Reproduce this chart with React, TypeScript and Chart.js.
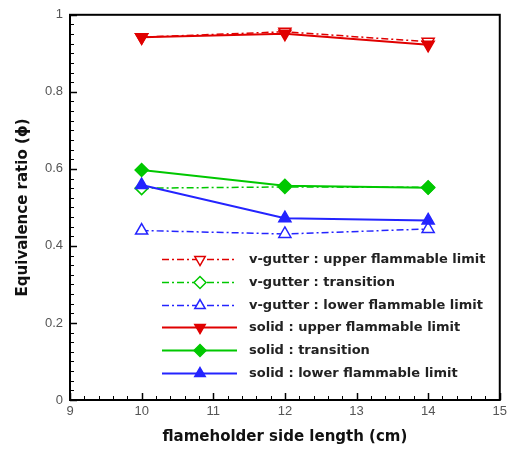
import React, { useEffect, useRef } from 'react';
import { Chart, registerables } from 'chart.js';
Chart.register(...registerables);

const sideLengths = [10, 12, 14];
const vGutterUpper = [0.942, 0.956, 0.93];
const vGutterTransition = [0.55, 0.553, 0.552];
const vGutterLower = [0.44, 0.431, 0.444];
const solidUpper = [0.942, 0.951, 0.922];
const solidTransition = [0.597, 0.556, 0.551];
const solidLower = [0.558, 0.472, 0.466];
const xTickValues = [9, 10, 11, 12, 13, 14, 15];
const yTickValues = [0, 0.2, 0.4, 0.6, 0.8, 1];
const seriesLabels = [
  'v-gutter : upper flammable limit',
  'v-gutter : transition',
  'v-gutter : lower flammable limit',
  'solid : upper flammable limit',
  'solid : transition',
  'solid : lower flammable limit',
];

const RED = '#e00000';
const GREEN = '#00c800';
const BLUE = '#2424ff';
const DASH = [7, 3, 2, 3];

type MarkerStyle = 'down' | 'up' | 'diamond';

function drawMarker(ctx: CanvasRenderingContext2D, style: MarkerStyle, x: number, y: number, r: number, filled: boolean, color: string) {
  ctx.save();
  ctx.setLineDash([]);
  ctx.beginPath();
  if (style === 'diamond') {
    ctx.moveTo(x, y - r);
    ctx.lineTo(x + r, y);
    ctx.lineTo(x, y + r);
    ctx.lineTo(x - r, y);
  } else {
    const s = style === 'up' ? 1 : -1;
    ctx.moveTo(x, y - s * r);
    ctx.lineTo(x + r * 0.866, y + s * r * 0.5);
    ctx.lineTo(x - r * 0.866, y + s * r * 0.5);
  }
  ctx.closePath();
  ctx.fillStyle = filled ? color : '#ffffff';
  ctx.fill();
  ctx.lineWidth = 1.5;
  ctx.strokeStyle = color;
  ctx.stroke();
  ctx.restore();
}

const legendInfo: { color: string; dashed: boolean; marker: MarkerStyle; filled: boolean }[] = [
  { color: RED, dashed: true, marker: 'down', filled: false },
  { color: GREEN, dashed: true, marker: 'diamond', filled: false },
  { color: BLUE, dashed: true, marker: 'up', filled: false },
  { color: RED, dashed: false, marker: 'down', filled: true },
  { color: GREEN, dashed: false, marker: 'diamond', filled: true },
  { color: BLUE, dashed: false, marker: 'up', filled: true },
];

const framePlugin = {
  id: 'frameTicks',
  afterDraw(chart: any) {
    const { ctx, chartArea } = chart;
    const xs = chart.scales.x;
    const ys = chart.scales.y;
    const { left, right, top, bottom } = chartArea;
    ctx.save();
    ctx.strokeStyle = '#000';
    for (let i = 0; i <= 30; i++) {
      const v = 9 + i * 0.2;
      const px = Math.round(xs.getPixelForValue(v)) + 0.5;
      const major = i % 5 === 0;
      const len = major ? 7 : 4;
      ctx.lineWidth = major ? 1.5 : 1;
      ctx.beginPath();
      ctx.moveTo(px, bottom);
      ctx.lineTo(px, bottom - len);
      ctx.stroke();
    }
    for (let i = 0; i <= 40; i++) {
      const v = i * 0.025;
      const py = Math.round(ys.getPixelForValue(v)) + 0.5;
      const major = i % 8 === 0;
      const len = major ? 7 : 4;
      ctx.lineWidth = major ? 1.5 : 1;
      ctx.beginPath();
      ctx.moveTo(left, py);
      ctx.lineTo(left + len, py);
      ctx.stroke();
    }
    ctx.lineWidth = 2;
    ctx.strokeRect(left, top, right - left, bottom - top);

    const rowY0 = 259;
    const rowH = 22.8;
    ctx.font = 'bold 13px "DejaVu Sans"';
    ctx.textBaseline = 'middle';
    ctx.textAlign = 'left';
    legendInfo.forEach((info, i) => {
      const y = Math.round(rowY0 + i * rowH) + 0.5;
      ctx.save();
      ctx.strokeStyle = info.color;
      ctx.lineWidth = info.dashed ? 1.5 : 2;
      ctx.setLineDash(info.dashed ? DASH : []);
      ctx.beginPath();
      ctx.moveTo(162, y);
      ctx.lineTo(237, y);
      ctx.stroke();
      ctx.restore();
      drawMarker(ctx, info.marker, 200, y, 6, info.filled, info.color);
      ctx.fillStyle = '#222';
      ctx.fillText(seriesLabels[i], 249, y);
    });
    ctx.restore();
  },
};

function makeSet(label: string, data: number[], color: string, dashed: boolean, marker: MarkerStyle, filled: boolean, order: number) {
  return {
    label,
    data: sideLengths.map((x, i) => ({ x, y: data[i] })),
    borderColor: color,
    borderWidth: dashed ? 1.5 : 2,
    borderDash: dashed ? DASH : [],
    pointStyle: marker === 'diamond' ? 'rectRot' : 'triangle',
    rotation: marker === 'down' ? 180 : 0,
    pointRadius: marker === 'diamond' ? 6.5 : 7,
    pointBorderWidth: 1.5,
    pointBackgroundColor: filled ? color : '#ffffff',
    pointBorderColor: color,
    backgroundColor: color,
    fill: false,
    tension: 0,
    order,
  };
}

export default function App() {
  const ref = useRef<HTMLCanvasElement | null>(null);
  useEffect(() => {
    document.body.style.margin = '0';
    const canvas = ref.current!;
    const chart = new Chart(canvas, {
      type: 'line',
      data: {
        datasets: [
          makeSet(seriesLabels[0], vGutterUpper, RED, true, 'down', false, 2),
          makeSet(seriesLabels[1], vGutterTransition, GREEN, true, 'diamond', false, 2),
          makeSet(seriesLabels[2], vGutterLower, BLUE, true, 'up', false, 2),
          makeSet(seriesLabels[3], solidUpper, RED, false, 'down', true, 1),
          makeSet(seriesLabels[4], solidTransition, GREEN, false, 'diamond', true, 1),
          makeSet(seriesLabels[5], solidLower, BLUE, false, 'up', true, 1),
        ] as any,
      },
      options: {
        animation: false,
        responsive: false,
        maintainAspectRatio: false,
        layout: { padding: { left: 0, top: 11, right: 11, bottom: 0 } },
        plugins: { legend: { display: false }, tooltip: { enabled: false } },
        scales: {
          x: {
            type: 'linear',
            min: 9,
            max: 15,
            afterFit: (s: any) => { s.height = 50; },
            afterBuildTicks: (s: any) => { s.ticks = xTickValues.map((v) => ({ value: v })); },
            ticks: { font: { family: '"Liberation Sans"', size: 13 }, color: '#555', padding: 4, maxRotation: 0, callback: (v: any) => String(v) },
            grid: { display: false, drawTicks: false },
            border: { display: false },
            title: {
              display: true,
              text: 'flameholder side length (cm)',
              font: { family: '"DejaVu Sans"', size: 15, weight: 'bold' },
              color: '#111',
              padding: { top: 4, bottom: 4 },
            },
          },
          y: {
            type: 'linear',
            min: 0,
            max: 1,
            afterFit: (s: any) => { s.width = 70; },
            afterBuildTicks: (s: any) => { s.ticks = yTickValues.map((v) => ({ value: v })); },
            ticks: { font: { family: '"Liberation Sans"', size: 13 }, color: '#555', padding: 7, callback: (v: any) => String(v) },
            grid: { display: false, drawTicks: false },
            border: { display: false },
            title: {
              display: true,
              text: 'Equivalence ratio (ϕ)',
              font: { family: '"DejaVu Sans"', size: 15, weight: 'bold' },
              color: '#111',
              padding: { top: 14, bottom: 4 },
            },
          },
        },
      } as any,
      plugins: [framePlugin],
    });
    return () => chart.destroy();
  }, []);
  return <canvas ref={ref} width={511} height={450} style={{ display: 'block' }} />;
}
